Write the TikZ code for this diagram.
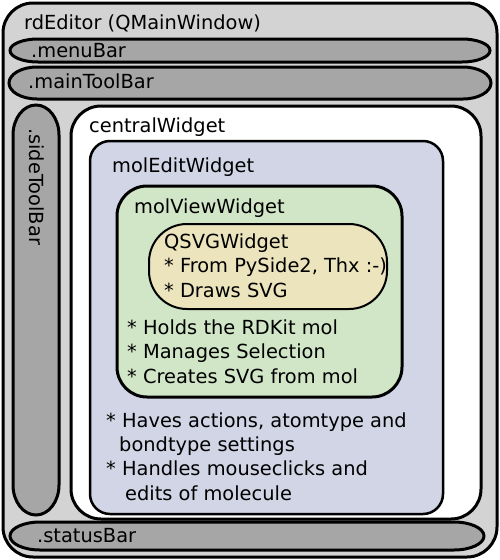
\documentclass[tikz,border=0pt]{standalone}
\usepackage{fontspec}
\setmainfont{DejaVu Sans}
\usepackage{tikz}
\usepackage{xcolor}

\definecolor{windowgray}{RGB}{211,211,211}
\definecolor{bargray}{RGB}{166,166,166}
\definecolor{editblue}{RGB}{209,213,229}
\definecolor{viewgreen}{RGB}{209,229,199}
\definecolor{svgsand}{RGB}{236,228,188}

\tikzset{
    barfill/.style={draw=black, line width=3pt, fill=bargray},
    label/.style={anchor=base west, inner sep=0pt, font=\fontsize{19.4}{24.3}\selectfont, align=left}
}

\begin{document}
\begin{tikzpicture}[x=1pt, y=-1pt]
        \useasboundingbox (0,0) rectangle (500,560);

        % Main window
        \draw[line width=3pt, fill=windowgray, rounded corners=30pt] (3,3) rectangle (497,557);
        \node[label] (title) at (24,29) {rdEditor (QMainWindow)};

        % Menu bar
        \draw[barfill] (38,39) -- (462,39) arc[start angle=-90, end angle=90, x radius=28, y radius=11.5]
            -- (38,62) arc[start angle=90, end angle=270, x radius=28, y radius=11.5] -- cycle;
        \node[label] (menubar) at (31,57) {.menuBar};

        % Main toolbar
        \draw[barfill] (37,67) -- (463,67) arc[start angle=-90, end angle=90, x radius=28, y radius=16]
            -- (37,99) arc[start angle=90, end angle=270, x radius=28, y radius=16] -- cycle;
        \node[label] (maintoolbar) at (28,88) {.mainToolBar};

        % Side toolbar
        \draw[barfill] (13,135) -- (13,485) arc[start angle=180, end angle=0, x radius=23, y radius=30]
            -- (59,135) arc[start angle=0, end angle=-180, x radius=23, y radius=30] -- cycle;
        \node[label, rotate=-90] (sidetoolbar) at (30,128) {.sideToolBar};

        % Status bar
        \draw[barfill] (40,522) -- (454,522) arc[start angle=-90, end angle=90, x radius=30, y radius=14]
            -- (40,550) arc[start angle=90, end angle=270, x radius=30, y radius=14] -- cycle;
        \node[label] (statusbar) at (37,542) {.statusBar};

        % Central widget
        \draw[line width=3pt, fill=white, rounded corners=30pt] (71,106) rectangle (481,519);
        \node[label] (central) at (89,132) {centralWidget};

        % Edit widget (base of a block is its last line)
        \draw[line width=2.5pt, fill=editblue, rounded corners=20pt] (90,141) rectangle (443,514);
        \node[label] (moledit) at (112,172) {molEditWidget};
        \node[label] (editnotes) at (106,500) {* Haves actions, atomtype and\\
            \hspace{13pt}bondtype settings\\
            * Handles mouseclicks and\\
            \hspace{19pt}edits of molecule};

        % View widget
        \draw[line width=3pt, fill=viewgreen, rounded corners=30pt] (117,186) rectangle (402,397);
        \node[label] (molview) at (134,213) {molViewWidget};
        \node[label] (viewnotes) at (127,383) {* Holds the RDKit mol\\
            * Manages Selection\\
            * Creates SVG from mol};

        % SVG widget
        \draw[line width=2pt, fill=svgsand, rounded corners=38pt] (149,224) rectangle (387,309);
        \node[label] (qsvg) at (164,297) {QSVGWidget\\
            * From PySide2, Thx :-)\\
            * Draws SVG};

    \end{tikzpicture}
\end{document}
